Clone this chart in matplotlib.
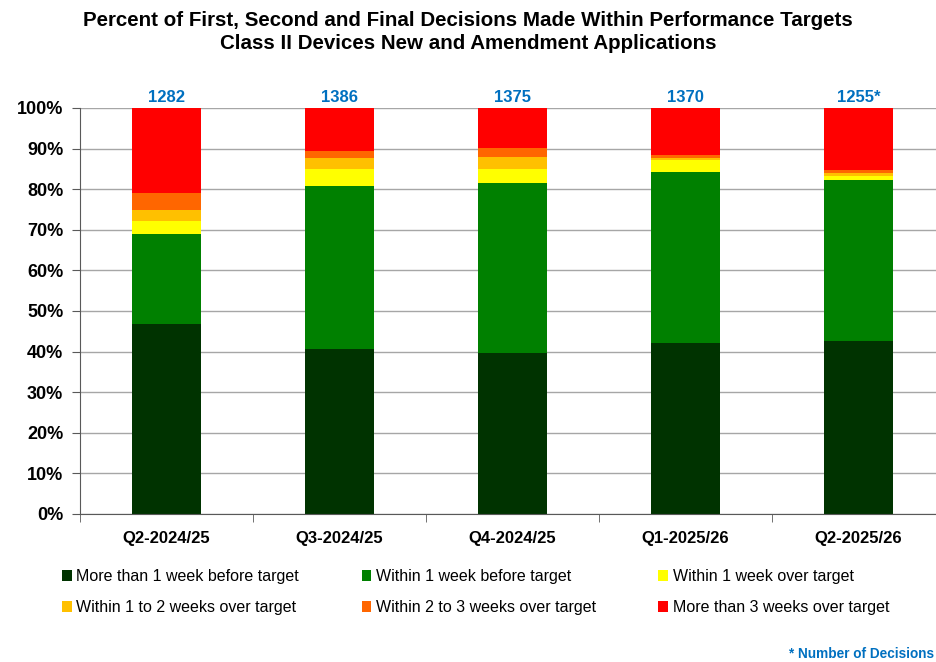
import matplotlib.pyplot as plt
import numpy as np
from matplotlib.patches import Patch

plt.rcParams['font.family'] = ['Liberation Sans', 'DejaVu Sans']

quarters = ["Q2-2024/25", "Q3-2024/25", "Q4-2024/25", "Q1-2025/26", "Q2-2025/26"]
decisions = ["1282", "1386", "1375", "1370", "1255*"]

series_names = [
    "More than 1 week before target",
    "Within 1 week before target",
    "Within 1 week over target",
    "Within 1 to 2 weeks over target",
    "Within 2 to 3 weeks over target",
    "More than 3 weeks over target",
]
# percent of decisions, per quarter
more_1wk_before = [46.8, 40.6, 39.7, 42.1, 42.6]
within_1wk_before = [22.2, 40.1, 41.8, 42.2, 39.6]
within_1wk_over = [3.2, 4.2, 3.4, 3.0, 1.1]
within_1_2wk_over = [2.7, 2.8, 3.0, 0.4, 0.6]
within_2_3wk_over = [4.1, 1.8, 2.2, 0.8, 0.7]
more_3wk_over = [21.0, 10.5, 9.9, 11.5, 15.4]

colors = ["#003300", "#008000", "#FFFF00", "#FFC000", "#FF6600", "#FF0000"]

series = [more_1wk_before, within_1wk_before, within_1wk_over,
          within_1_2wk_over, within_2_3wk_over, more_3wk_over]

fig = plt.figure(figsize=(9.36, 6.62), dpi=100)
ax = fig.add_axes([0.0855, 0.2236, 0.924, 0.6133])

x = np.arange(len(quarters))
bottom = np.zeros(len(quarters))
for vals, col in zip(series, colors):
    v = np.array(vals) / 100.0
    ax.bar(x, v, 0.4, bottom=bottom, color=col, edgecolor="none", zorder=2)
    bottom += v

for xi, lab in zip(x, decisions):
    ax.text(xi, 1.008, lab, ha="center", va="bottom", color="#0070C0",
            fontsize=12, fontweight="bold")

ax.set_xlim(-0.5, 4.5)
ax.set_ylim(0, 1)
ax.set_yticks(np.arange(0, 1.01, 0.1))
ax.set_yticklabels([f"{int(round(t * 100))}%" for t in np.arange(0, 1.01, 0.1)],
                   fontsize=13, fontweight="bold")
ax.yaxis.grid(True, color="#a6a6a6", linewidth=1)
ax.set_axisbelow(True)

ax.set_xticks(x)
ax.set_xticklabels(quarters, fontsize=12, fontweight="bold")
ax.tick_params(axis="x", length=0, pad=12)
ax.set_xticks(np.arange(-0.5, 4.6, 1), minor=True)
ax.tick_params(axis="x", which="minor", length=6, color="#595959")
ax.tick_params(axis="y", length=6, color="#595959", pad=6)

for s in ["top", "right"]:
    ax.spines[s].set_visible(False)
ax.spines["left"].set_color("#595959")
ax.spines["bottom"].set_color("#595959")

fig.text(0.5, 0.984, "Percent of First, Second and Final Decisions Made Within Performance Targets\n"
         "Class II Devices New and Amendment Applications",
         ha="center", va="top", fontsize=14.8, fontweight="bold", linespacing=1.3)

handles = [Patch(facecolor=c, edgecolor="none") for c in colors]
order = [0, 3, 1, 4, 2, 5]
fig.legend([handles[i] for i in order], [series_names[i] for i in order],
           ncol=3, loc="upper left", bbox_to_anchor=(0.051, 0.162),
           frameon=False, fontsize=11.5, handlelength=0.6, handleheight=0.6,
           handletextpad=0.3, columnspacing=3.9, labelspacing=1.0)

fig.text(0.998, 0.002, "* Number of Decisions", ha="right", va="bottom",
         color="#0070C0", fontsize=9.8, fontweight="bold")

fig.savefig("out.png", dpi=100)
